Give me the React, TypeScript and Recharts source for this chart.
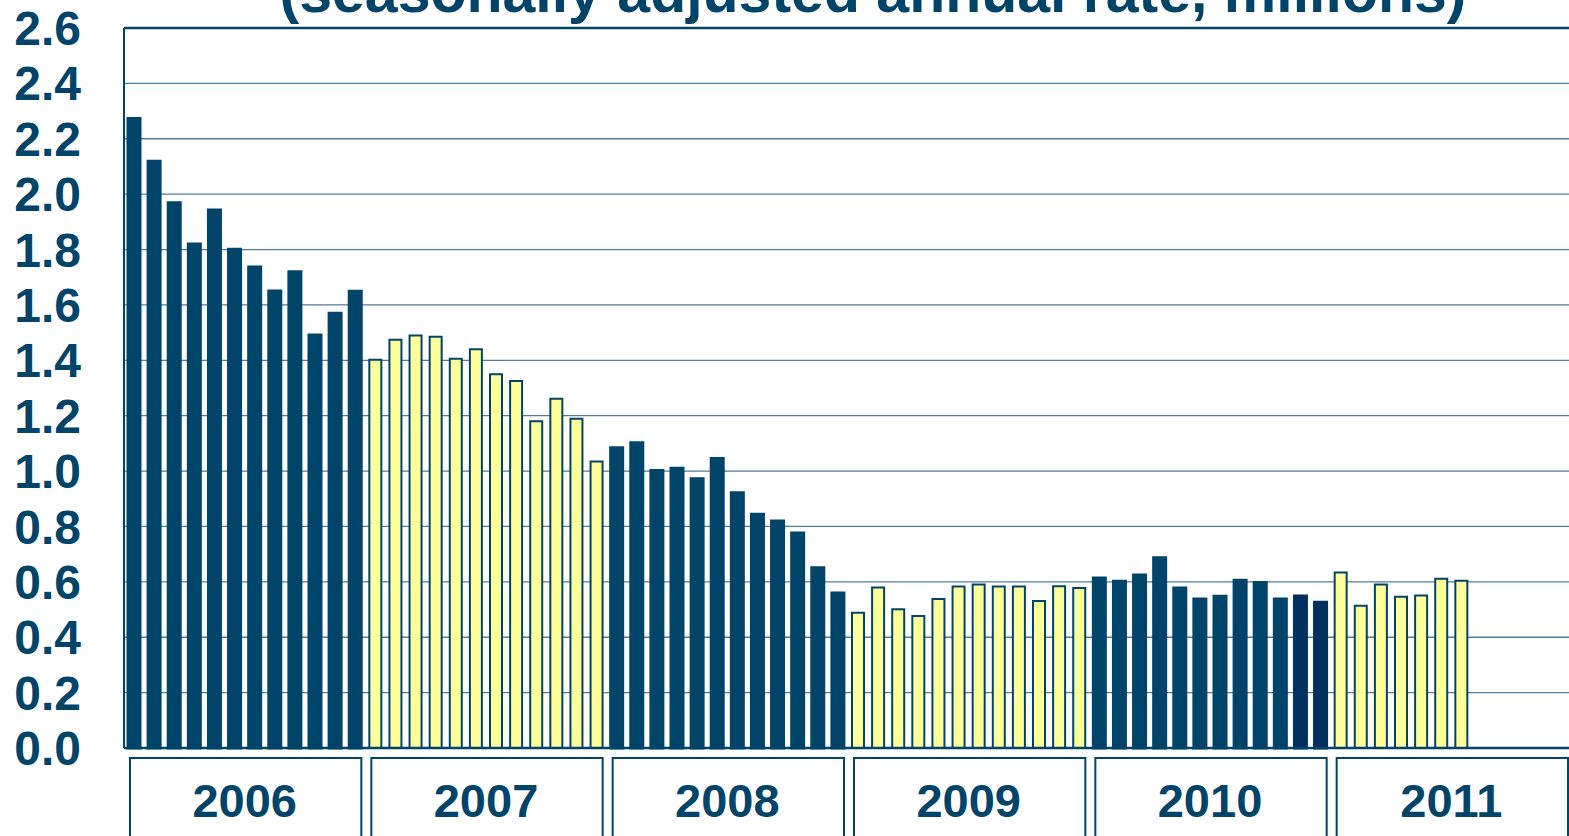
import { BarChart, Bar, XAxis, YAxis, CartesianGrid, ReferenceLine, Cell } from 'recharts';

const NAVY = '#00446A';
const NAVY_DARK = '#00315F';
const YELLOW = '#FFFF99';
const GRID = '#4f7d9b';
const FONT = '"Liberation Sans", Arial, sans-serif';

const years = ['2006', '2007', '2008', '2009', '2010', '2011'];
const monthsPerYear = 12;

// housing starts, seasonally adjusted annual rate (millions)
const starts2006 = [2.273, 2.119, 1.969, 1.820, 1.943, 1.801, 1.737, 1.650, 1.720, 1.491, 1.570, 1.649];
const starts2007 = [1.402, 1.474, 1.490, 1.485, 1.406, 1.440, 1.350, 1.325, 1.180, 1.261, 1.189, 1.035];
const starts2008 = [1.084, 1.102, 1.002, 1.010, 0.972, 1.045, 0.922, 0.844, 0.820, 0.776, 0.651, 0.560];
const starts2009 = [0.488, 0.580, 0.501, 0.477, 0.538, 0.583, 0.590, 0.583, 0.583, 0.531, 0.584, 0.578];
const starts2010 = [0.614, 0.602, 0.625, 0.687, 0.578, 0.538, 0.548, 0.606, 0.598, 0.538, 0.549, 0.526];
const starts2011 = [0.634, 0.514, 0.590, 0.546, 0.551, 0.611, 0.604];

const startsByYear = [starts2006, starts2007, starts2008, starts2009, starts2010, starts2011];
const yTicks = [0, 0.2, 0.4, 0.6, 0.8, 1.0, 1.2, 1.4, 1.6, 1.8, 2.0, 2.2, 2.4, 2.6];
// last two months of 2010 are drawn a shade darker in the original
const darkerBars = ['2010-11', '2010-12'];

const data = years.flatMap((year, yi) =>
  Array.from({ length: monthsPerYear }, (_, m) => ({
    key: `${year}-${m + 1}`,
    year,
    yearIndex: yi,
    value: startsByYear[yi][m] ?? null,
  }))
);

const CHART_W = 1572;
const CHART_H = 836;
const Y_AXIS_W = 124;
const BAND = (CHART_W - Y_AXIS_W) / data.length;

// eslint-disable-next-line @typescript-eslint/no-explicit-any
function YearTick({ x, y, index }: any) {
  if (index % monthsPerYear !== 5) return null;
  const center = x + BAND / 2;
  const year = data[index].year;
  return (
    <g>
      <rect
        x={center - 6 * BAND + 6}
        y={y}
        width={12 * BAND - 10}
        height={100}
        fill="#fff"
        stroke={NAVY}
        strokeWidth={2}
      />
      <text
        x={center}
        y={y + 59}
        textAnchor="middle"
        fontSize={47}
        fontWeight="bold"
        fontFamily={FONT}
        fill={NAVY}
      >
        {year}
      </text>
    </g>
  );
}

export default function App() {
  return (
    <div style={{ position: 'absolute', left: 0, top: 0, width: 1569, height: 836, overflow: 'hidden', background: '#fff' }}>
      <BarChart
        width={CHART_W}
        height={CHART_H}
        data={data}
        margin={{ top: 28, right: 0, bottom: 0, left: 0 }}
        barSize={12}
      >
        <CartesianGrid vertical={false} stroke={GRID} strokeWidth={1.3} />
        <XAxis
          dataKey="key"
          height={88}
          interval={0}
          tickLine={false}
          tickMargin={4}
          axisLine={{ stroke: NAVY, strokeWidth: 2.5 }}
          tick={(props: any) => <YearTick {...props} />}
        />
        <YAxis
          width={Y_AXIS_W}
          domain={[0, 2.6]}
          ticks={yTicks}
          interval={0}
          tickFormatter={(v: number) => v.toFixed(1)}
          tickLine={false}
          tickMargin={37}
          axisLine={{ stroke: NAVY, strokeWidth: 2 }}
          tick={{ fontSize: 48, fontWeight: 'bold', fill: NAVY, fontFamily: FONT }}
        />
        <ReferenceLine y={2.6} stroke={NAVY} strokeWidth={2.5} />
        <Bar dataKey="value" isAnimationActive={false}>
          {data.map((d) => {
            const navy = d.yearIndex % 2 === 0;
            const fill = darkerBars.includes(d.key) ? NAVY_DARK : navy ? NAVY : YELLOW;
            return (
              <Cell
                key={d.key}
                fill={fill}
                stroke={navy ? fill : NAVY}
                strokeWidth={navy ? 3 : 2}
              />
            );
          })}
        </Bar>
      </BarChart>
      <svg width={1569} height={60} style={{ position: 'absolute', left: 0, top: 0, pointerEvents: 'none' }}>
        <text
          x={873}
          y={12}
          textAnchor="middle"
          fontSize={59}
          fontWeight="bold"
          fontFamily={FONT}
          fill={NAVY}
        >
          (seasonally adjusted annual rate, millions)
        </text>
      </svg>
    </div>
  );
}
